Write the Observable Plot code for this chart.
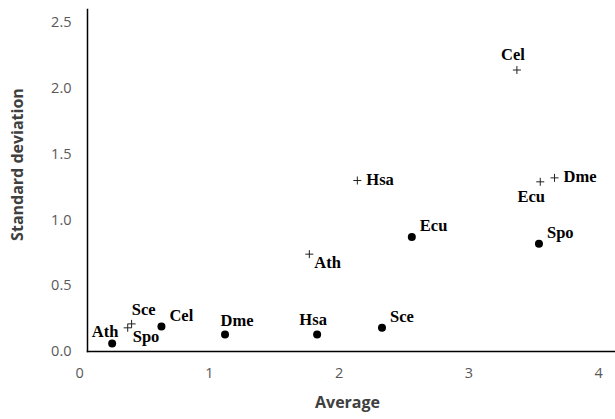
<!DOCTYPE html>
<html>
<head>
<meta charset="utf-8">
<script src="https://cdn.jsdelivr.net/npm/d3@7"></script>
<script src="https://cdn.jsdelivr.net/npm/@observablehq/plot@0.6"></script>
<style>
  html, body { margin: 0; padding: 0; background: #fff; }
</style>
</head>
<body>
<div id="chart"></div>
<script>
// Series 1: filled circles
const dotNames = ["Ath", "Cel", "Dme", "Hsa", "Sce", "Ecu", "Spo"];
const dotAvg   = [0.25, 0.63, 1.12, 1.83, 2.33, 2.56, 3.54];
const dotSd    = [0.06, 0.19, 0.13, 0.13, 0.18, 0.87, 0.82];
const dotPlace = ["NW", "NE", "NNE", "N", "NE", "NE", "NE"];

// Series 2: plus markers
const plusNames = ["Cel", "Hsa", "Dme", "Ecu", "Ath", "Sce", "Spo"];
const plusAvg   = [3.37, 2.14, 3.66, 3.55, 1.77, 0.40, 0.37];
const plusSd    = [2.14, 1.30, 1.32, 1.29, 0.74, 0.21, 0.18];
const plusPlace = ["N", "E", "E", "SW", "SE", "NNE", "SE"];

const xTicks = [0, 1, 2, 3, 4];
const yTicks = [0, 0.5, 1, 1.5, 2, 2.5];
const xTitle = "Average";
const yTitle = "Standard deviation";

const placements = {
  N:   {textAnchor: "middle", dx: -4, dy: -15},
  NNE: {textAnchor: "middle", dx: 12, dy: -14},
  NW:  {textAnchor: "middle", dx: -7, dy: -12},
  NE:  {textAnchor: "start",  dx: 8,  dy: -11},
  E:   {textAnchor: "start",  dx: 9,  dy: -1},
  SW:  {textAnchor: "middle", dx: -9, dy: 15},
  SE:  {textAnchor: "start",  dx: 5,  dy: 9}
};

const dots = dotNames.map((n, i) => ({name: n, avg: dotAvg[i], sd: dotSd[i], place: dotPlace[i]}));
const pluses = plusNames.map((n, i) => ({name: n, avg: plusAvg[i], sd: plusSd[i], place: plusPlace[i]}));
const all = [...dots, ...pluses];

const plusSymbol = {
  draw(context, size) {
    const r = Math.sqrt(size / Math.PI);
    context.moveTo(-r, 0); context.lineTo(r, 0);
    context.moveTo(0, -r); context.lineTo(0, r);
  }
};

const labelFont = "'Liberation Serif', 'Times New Roman', serif";
const axisFont = "'Open Sans', sans-serif";

const labelMarks = Object.entries(placements).map(([code, p]) =>
  Plot.text(all.filter(d => d.place === code), {
    x: "avg", y: "sd", text: "name",
    textAnchor: p.textAnchor, dx: p.dx, dy: p.dy,
    fontFamily: labelFont, fontWeight: "bold", fontSize: 16.5, fill: "#000"
  })
);

const chart = Plot.plot({
  width: 615,
  height: 419,
  marginLeft: 87,
  marginRight: 0,
  marginTop: 9,
  marginBottom: 68,
  style: {background: "#fff", overflow: "visible"},
  x: {domain: [0.06, 4.13]},
  y: {domain: [0, 2.6]},
  marks: [
    Plot.axisX({ticks: xTicks, tickSize: 0, tickPadding: 16, label: null,
      fontSize: 14.5, fontFamily: axisFont, fill: "#595959", tickFormat: d3.format("d")}),
    Plot.axisY({ticks: yTicks, tickSize: 0, tickPadding: 16, label: null,
      fontSize: 14.5, fontFamily: axisFont, fill: "#595959", tickFormat: d3.format(".1f")}),
    Plot.frame({anchor: "left", stroke: "#000", strokeWidth: 1.5}),
    Plot.frame({anchor: "bottom", stroke: "#000", strokeWidth: 1.5}),
    Plot.dot(dots, {x: "avg", y: "sd", r: 4, fill: "#000", stroke: "none"}),
    Plot.dot(pluses, {x: "avg", y: "sd", r: 4, symbol: plusSymbol, fill: "none", stroke: "#222", strokeWidth: 1}),
    ...labelMarks,
    Plot.text([xTitle], {frameAnchor: "bottom", textAnchor: "middle", dx: -4, dy: 56, text: d => d,
      fontFamily: axisFont, fontWeight: "bold", fontSize: 16, fill: "#404040"}),
    Plot.text([yTitle], {frameAnchor: "left", textAnchor: "middle", dx: -70, dy: -16, rotate: -90, text: d => d,
      fontFamily: axisFont, fontWeight: "bold", fontSize: 16, fill: "#404040"})
  ]
});

document.getElementById("chart").appendChild(chart);
</script>
</body>
</html>
